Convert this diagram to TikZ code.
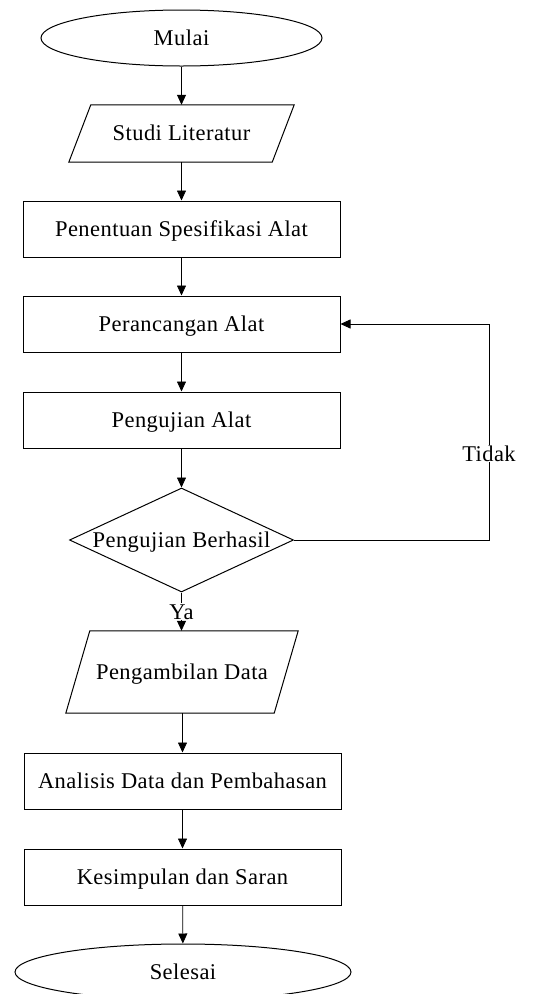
\documentclass[tikz,border=0pt]{standalone}
\usepackage{fontspec}
\setmainfont{Liberation Serif}[LetterSpace=2]
\usetikzlibrary{shapes.geometric,arrows.meta}
\begin{document}
\begin{tikzpicture}[x=1pt,y=-1pt,
  txt/.style={font=\fontsize{22.5}{26}\selectfont, text height=14.9pt, text depth=0pt},
  box/.style={txt, draw, line width=1pt, minimum width=317pt, minimum height=56pt, inner sep=0pt},
  term/.style={txt, draw, ellipse, line width=1pt, inner sep=0pt, minimum height=56pt},
  para/.style={txt, minimum height=57pt, inner sep=0pt},
  parashape/.style={draw, line width=1pt, line join=miter},
  dec/.style={draw, diamond, line width=1pt, inner sep=0pt, minimum width=224pt, minimum height=104pt},
  lbl/.style={txt, fill=white, inner sep=1pt},
  arr/.style={-{Triangle[width=9pt,length=10pt]}, line width=0.8pt},
  ln/.style={line width=0.8pt}]
\useasboundingbox (0,0) rectangle (543,994);
\fill[white] (0,0) rectangle (543,994);
\clip (0,0) rectangle (543,994);

\node[term, minimum width=281pt] (mulai) at (181.5,38) {Mulai};

\node[para, minimum width=203pt] (studi) at (181.5,133.5) {Studi Literatur};
\draw[parashape] ([xshift=11pt]studi.north west) -- ([xshift=11pt]studi.north east)
  -- ([xshift=-11pt]studi.south east) -- ([xshift=-11pt]studi.south west) -- cycle;

\node[box] (spek) at (181.5,229) {Penentuan Spesifikasi Alat};
\node[box] (ranc) at (181.5,324) {Perancangan Alat};
\node[box] (uji) at (181.5,420) {Pengujian Alat};
\node[dec, label={[txt]center:Pengujian Berhasil}] (hasil) at (181.5,540) {};

\node[para, minimum width=208pt, minimum height=82pt] (ambil) at (182,672) {Pengambilan Data};
\draw[parashape] ([xshift=12pt]ambil.north west) -- ([xshift=12pt]ambil.north east)
  -- ([xshift=-12pt]ambil.south east) -- ([xshift=-12pt]ambil.south west) -- cycle;

\node[box] (anal) at (182.5,781) {Analisis Data dan Pembahasan};
\node[box] (kesim) at (182.5,877) {Kesimpulan dan Saran};
\node[term, minimum width=336pt] (selesai) at (183,972) {Selesai};

\coordinate (loopR) at (489,540);
\coordinate (loopT) at (489,324);

\draw[arr] (mulai) -- (studi.north);
\draw[arr] (studi.south) -- (spek);
\draw[arr] (spek) -- (ranc);
\draw[arr] (ranc) -- (uji);
\draw[arr] (uji) -- (hasil);
\draw[arr] (hasil.south) -- node[lbl, pos=0.5] (ya) {Ya} (hasil.south |- ambil.north);
\draw[arr] (hasil.east) -- (loopR) -- node[lbl, pos=0.4] (tidak) {Tidak} (loopT) -- (ranc.east);
\draw[arr] (ambil.south -| anal.north) -- (anal);
\draw[arr] (anal) -- (kesim);
\draw[arr] (kesim) -- (selesai);
\end{tikzpicture}
\end{document}
